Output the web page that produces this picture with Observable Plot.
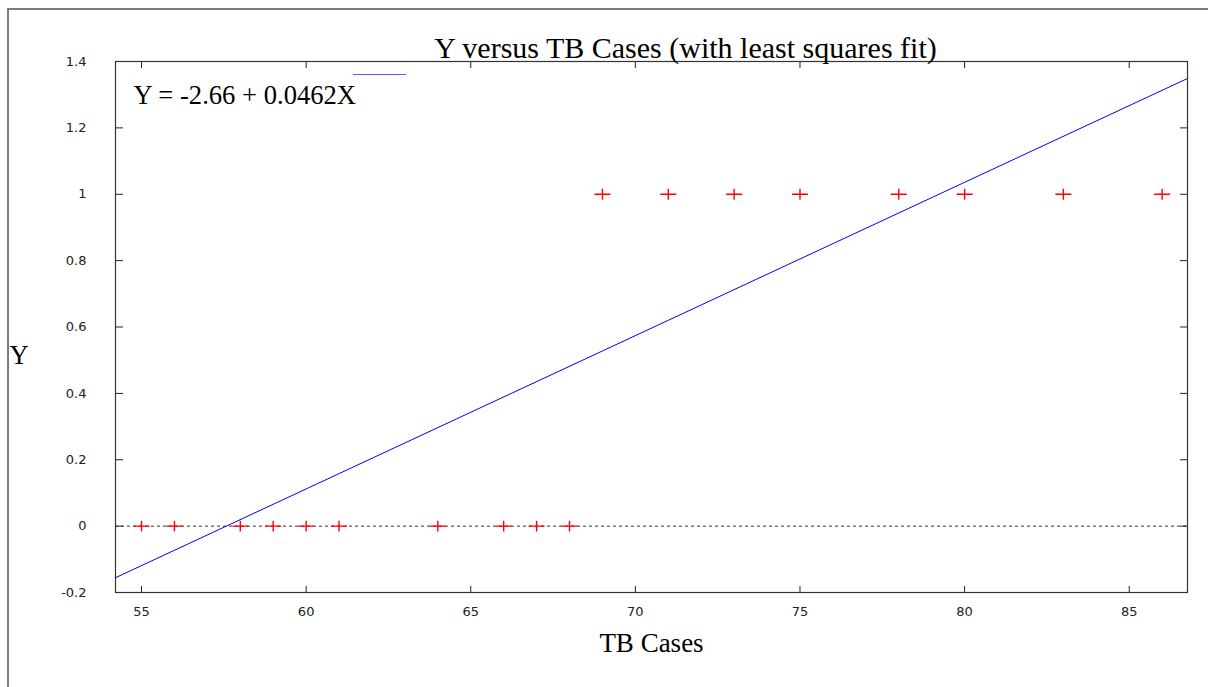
<!DOCTYPE html>
<html><head><meta charset="utf-8">
<script src="https://cdn.jsdelivr.net/npm/d3@7"></script>
<script src="https://cdn.jsdelivr.net/npm/@observablehq/plot@0.6"></script>
<style>
body{margin:0;background:#fff}
#wrap{position:relative;width:1208px;height:687px;overflow:hidden;background:#fff}
#chart{position:absolute;left:0;top:0}
#outer{position:absolute;left:7px;top:8px;width:1300px;height:800px;border-left:2px solid #7a7a7a;border-top:2px solid #7a7a7a;pointer-events:none}
#legline{position:absolute;left:353px;top:74px;width:53px;height:0;border-top:1.5px solid #5a5aff}
</style></head><body>
<div id="wrap"><div id="chart"></div><div id="outer"></div><div id="legline"></div></div>
<script>
const tbCases = [55, 56, 58, 59, 60, 61, 64, 66, 67, 68, 69, 71, 73, 75, 78, 80, 83, 86];
const yValues = [0, 0, 0, 0, 0, 0, 0, 0, 0, 0, 1, 1, 1, 1, 1, 1, 1, 1];
const xTicks = [55, 60, 65, 70, 75, 80, 85];
const yTicks = [-0.2, 0, 0.2, 0.4, 0.6, 0.8, 1, 1.2, 1.4];
const yTickLabels = ["-0.2", "0", "0.2", "0.4", "0.6", "0.8", "1", "1.2", "1.4"];
const fitIntercept = -2.66;
const fitSlope = 0.0462;
const xDomain = [54.21, 86.77];
const yDomain = [-0.2, 1.4];
const titleText = "Y versus TB Cases (with least squares fit)";
const xLabel = "TB Cases";
const yLabel = "Y";
const legendText = "Y = -2.66 + 0.0462X";

const points = tbCases.map((x, i) => ({x, y: yValues[i]}));
const fitLine = xDomain.map(x => ({x, y: fitIntercept + fitSlope * x}));

const plusSym = {
  draw(ctx, size) {
    const r = Math.sqrt(size / Math.PI);
    ctx.moveTo(-r, 0); ctx.lineTo(r, 0);
    ctx.moveTo(0, -r * 0.68); ctx.lineTo(0, r * 0.68);
  }
};

const serif = "'Liberation Serif', 'Times New Roman', serif";
const sans = "'DejaVu Sans', sans-serif";

const chart = Plot.plot({
  width: 1208,
  height: 687,
  marginLeft: 115,
  marginRight: 21,
  marginTop: 61,
  marginBottom: 95,
  style: {fontFamily: sans, fontSize: "13px", background: "transparent"},
  x: {domain: xDomain},
  y: {domain: yDomain},
  marks: [
    Plot.ruleY([0], {stroke: "#333", strokeDasharray: "3,3"}),
    Plot.axisX({anchor: "bottom", ticks: xTicks, tickSize: -6, fill: "none", label: null, stroke: "#222"}),
    Plot.axisX({anchor: "top", ticks: xTicks, tickSize: -6, fill: "none", label: null, stroke: "#222"}),
    Plot.axisY({anchor: "left", ticks: yTicks, tickSize: -8, fill: "none", label: null, stroke: "#222"}),
    Plot.axisY({anchor: "right", ticks: yTicks, tickSize: -8, fill: "none", label: null, stroke: "#222"}),
    Plot.axisX({anchor: "bottom", ticks: xTicks, tickSize: 0, tickPadding: 14, label: null, fill: "#222", fontSize: 13}),
    Plot.axisY({anchor: "left", ticks: yTicks, tickSize: 0, tickPadding: 29, label: null, fill: "#222", fontSize: 13,
      tickFormat: d => yTickLabels[yTicks.indexOf(d)]}),
    Plot.frame({stroke: "#333", strokeWidth: 1.2}),
    Plot.line(fitLine, {x: "x", y: "y", stroke: "#0000ff", strokeWidth: 1}),
    Plot.dot(points, {x: "x", y: "y", symbol: plusSym, r: 8, stroke: "#ff0000", strokeWidth: 1.4}),
    Plot.text([titleText], {text: d => d, frameAnchor: "top", dx: 34, dy: -4, lineAnchor: "bottom", fontFamily: serif, fontSize: 30, fill: "#000"}),
    Plot.text([legendText], {text: d => d, frameAnchor: "top-left", textAnchor: "start", dx: 18, dy: 42, lineAnchor: "bottom", fontFamily: serif, fontSize: 26.6, fill: "#000"}),
    Plot.text([xLabel], {text: d => d, frameAnchor: "bottom", dy: 59, lineAnchor: "bottom", fontFamily: serif, fontSize: 27, fill: "#000"}),
    Plot.text([yLabel], {text: d => d, frameAnchor: "left", textAnchor: "start", dx: -106, dy: 36.5, lineAnchor: "bottom", fontFamily: serif, fontSize: 26.6, fill: "#000"})
  ]
});
document.getElementById("chart").appendChild(chart);
</script>
</body></html>
